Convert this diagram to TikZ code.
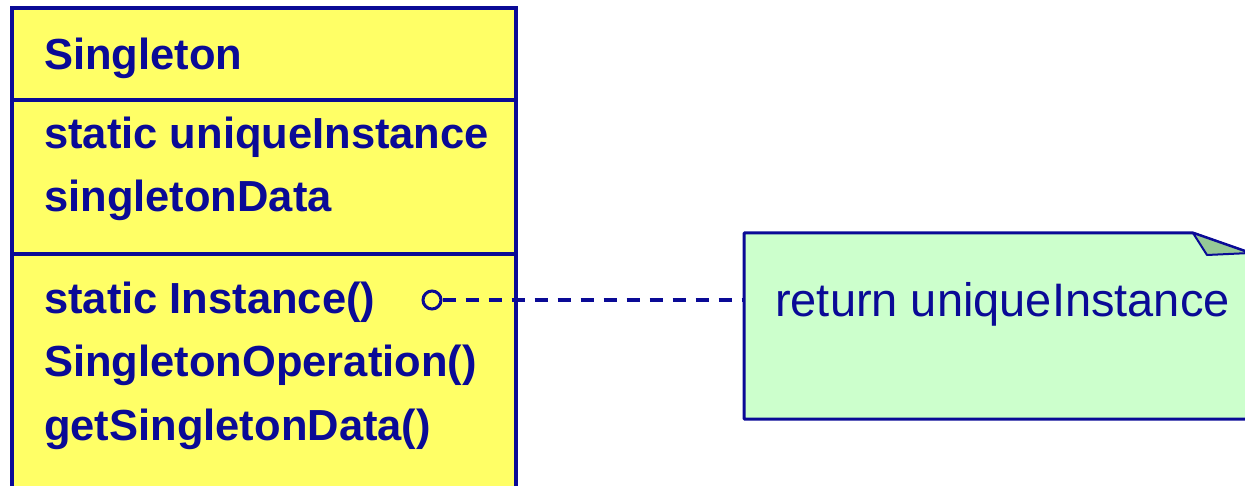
\documentclass[tikz,border=0pt]{standalone}
\usepackage{fontspec}
\usepackage{tikz}
\newfontfamily\umlsans{Liberation Sans}
\usetikzlibrary{positioning}
\usetikzlibrary{backgrounds}
\definecolor{umlblue}{RGB}{10,10,150}
\definecolor{umlyellow}{RGB}{255,255,102}
\definecolor{notegreen}{RGB}{204,255,204}
\definecolor{foldgreen}{RGB}{150,200,150}
\tikzstyle{compart}=[draw=umlblue,line width=3.5pt,fill=umlyellow,minimum width=504pt,inner sep=0,outer sep=0]
\tikzstyle{member}=[anchor=base west,inner sep=0,text=umlblue,font=\umlsans\bfseries\fontsize{43.5}{52}\selectfont]
\tikzstyle{memo}=[minimum width=506pt,minimum height=186pt,inner sep=0,outer sep=0]
\tikzstyle{memotext}=[anchor=base west,inner sep=0,text=umlblue,font=\umlsans\fontsize{47}{56}\selectfont]
\tikzstyle{port}=[draw=umlblue,line width=3pt,circle,minimum size=18pt,inner sep=0,fill=umlyellow]
\tikzstyle{tie}=[draw=umlblue,line width=4pt,dash pattern=on 13pt off 10pt]

\begin{document}
\begin{tikzpicture}[x=1pt,y=-1pt]
\clip (0,0) rectangle (1245,486);

% class box: name, attributes, operations
\node[compart,minimum height=92pt,anchor=north west] (cname) at (12,8) {};
\node[compart,minimum height=154pt,below=0pt of cname] (cattr) {};
\node[compart,minimum height=260pt,below=0pt of cattr] (cops) {};

\node[member] (title) at ([xshift=32pt,yshift=-62pt]cname.north west) {Singleton};
\node[member] (uniq) at ([xshift=32pt,yshift=-49pt]cattr.north west) {static uniqueInstance};
\node[member] (sdata) at ([yshift=-63pt]uniq.base west) {singletonData};
\node[member] (inst) at ([xshift=32pt,yshift=-59pt]cops.north west) {static Instance()};
\node[member] (sop) at ([yshift=-63.5pt]inst.base west) {SingletonOperation()};
\node[member] (gdata) at ([yshift=-63.5pt]sop.base west) {getSingletonData()};

% note with folded corner
\node[memo,anchor=north west] (memo) at (744,233) {};
\node[memotext] (ret) at ([xshift=31pt,yshift=-84pt]memo.north west) {return uniqueInstance};
\begin{scope}[on background layer]
\draw[umlblue,line width=3pt,fill=notegreen,line join=round]
  (memo.south west) -- (memo.north west) -- ([xshift=-57pt]memo.north east)
  -- ([yshift=-20pt]memo.north east) -- (memo.south east) -- cycle;
\draw[umlblue,line width=2pt,fill=foldgreen,line join=round]
  ([xshift=-57pt]memo.north east) -- ([xshift=-43pt,yshift=-22pt]memo.north east)
  -- ([yshift=-20pt]memo.north east) -- cycle;
\end{scope}

% attachment of the note
\node[port] (hook) at (432,300) {};
\draw[tie] (hook) -- (hook -| memo.west);

\end{tikzpicture}
\end{document}
